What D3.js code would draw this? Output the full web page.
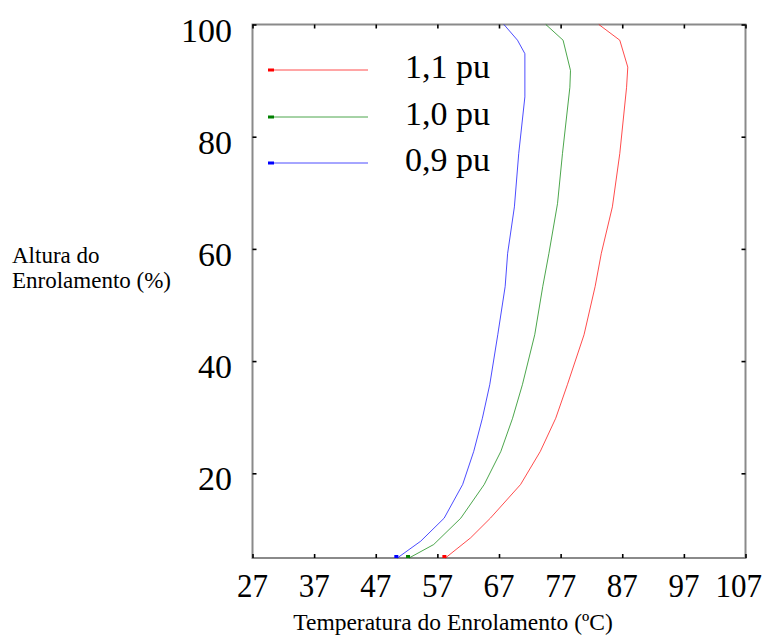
<!DOCTYPE html>
<html><head><meta charset="utf-8">
<script src="https://cdn.jsdelivr.net/npm/d3@7"></script>
<style>
html,body{margin:0;padding:0;background:#fff;}
text{font-family:"Liberation Serif","Times New Roman",serif;fill:#000;}
</style></head>
<body>
<svg id="chart" width="766" height="635"></svg>
<script>
// ---- data ----
const xTicks = [27, 37, 47, 57, 67, 77, 87, 97, 107];
const yTicks = [20, 40, 60, 80, 100];
const seriesNames = ["1,1 pu", "1,0 pu", "0,9 pu"];
const seriesColors = ["#ff0000", "#008000", "#0000ff"];
// winding height (%) and winding temperature (ºC) per series
const heights11 = [4.9, 8.5, 12, 18, 23.9, 29.8, 35.8, 44.7, 53.3, 59.2, 67.5, 77, 88.8, 92.4, 97.2, 100];
const temps11   = [58.3, 62.4, 65.6, 70.5, 73.7, 76.2, 78.1, 80.8, 82.6, 83.6, 85.4, 86.6, 87.7, 87.9, 86.6, 83.2];
const heights10 = [4.9, 7.3, 12, 18, 23.9, 29.8, 35.8, 44.7, 53.3, 59.2, 68.1, 77, 88.8, 91.8, 97.2, 100];
const temps10   = [52.4, 56.4, 60.8, 64.6, 67.3, 69.2, 70.8, 72.8, 74.1, 75.1, 76.5, 77.3, 78.5, 78.6, 77.4, 74.6];
const heights09 = [4.9, 7.9, 12, 18, 23.9, 29.8, 35.8, 44.7, 53.3, 59.2, 67.5, 77, 87.1, 94.8, 97.2, 100];
const temps09   = [50.5, 54.3, 58.1, 61.1, 62.9, 64.3, 65.5, 66.8, 68.0, 68.4, 69.5, 70.2, 71.2, 71.2, 70.0, 67.8];
const xTitle = "Temperatura do Enrolamento (ºC)";
const yTitle = ["Altura do", "Enrolamento (%)"];

const series = [
  {name: seriesNames[0], color: seriesColors[0], h: heights11, t: temps11},
  {name: seriesNames[1], color: seriesColors[1], h: heights10, t: temps10},
  {name: seriesNames[2], color: seriesColors[2], h: heights09, t: temps09}
];

// ---- layout ----
const L = 252.5, R = 745.5, T = 24.5, B = 558;
const x = d3.scaleLinear().domain([27, 107]).range([L, R]);
const y = d3.scaleLinear().domain([4.9, 100]).range([B, T]);

const svg = d3.select("#chart");

// frame
svg.append("rect").attr("x", L).attr("y", T).attr("width", R - L).attr("height", B - T)
  .attr("fill", "none").attr("stroke", "#8a8a8a").attr("stroke-width", 2);

// ticks (inward) on all sides
const tickLen = 4;
const gb = svg.append("g").attr("transform", `translate(0,${B})`)
  .call(d3.axisTop(x).tickValues(xTicks).tickSize(tickLen).tickFormat(""));
const gt = svg.append("g").attr("transform", `translate(0,${T})`)
  .call(d3.axisBottom(x).tickValues(xTicks).tickSize(tickLen).tickFormat(""));
const gl = svg.append("g").attr("transform", `translate(${L},0)`)
  .call(d3.axisRight(y).tickValues(yTicks).tickSize(tickLen).tickFormat(""));
const gr = svg.append("g").attr("transform", `translate(${R},0)`)
  .call(d3.axisLeft(y).tickValues(yTicks).tickSize(tickLen).tickFormat(""));
[gb, gt, gl, gr].forEach(g => {
  g.select(".domain").remove();
  g.selectAll(".tick line").attr("stroke", "#000").attr("stroke-width", 1.6);
});

// tick labels (x labels slightly stretched vertically, as in the reference)
svg.append("g").selectAll("text").data(xTicks).join("text")
  .attr("text-anchor", "middle").attr("font-size", 31)
  .attr("transform", d => `translate(${x(d)},597) scale(1,1.12)`)
  .text(d => d)
  .each(function(d) {
    const w = this.getComputedTextLength();
    const cx = Math.min(x(d), 762 - w / 2);
    d3.select(this).attr("transform", `translate(${cx},597) scale(1,1.12)`);
  });
svg.append("g").selectAll("text").data(yTicks).join("text")
  .attr("x", 232).attr("y", d => y(d) + 17)
  .attr("text-anchor", "end").attr("font-size", 34)
  .text(d => d);

// axis titles
svg.append("text").attr("x", 453).attr("y", 630).attr("text-anchor", "middle")
  .attr("font-size", 23.5).text(xTitle);
svg.append("text").attr("x", 12).attr("y", 263).attr("font-size", 23).text(yTitle[0]);
svg.append("text").attr("x", 12).attr("y", 288).attr("font-size", 23).text(yTitle[1]);

// curves
const line = d3.line().x(d => x(d[0])).y(d => y(d[1]));
series.forEach(s => {
  const pts = s.t.map((t, i) => [t, s.h[i]]);
  svg.append("path").datum(pts).attr("d", line)
    .attr("fill", "none").attr("stroke", s.color).attr("stroke-width", 1).attr("stroke-opacity", 0.7);
  svg.append("rect").attr("x", x(pts[0][0]) - 3).attr("y", y(pts[0][1]) - 3)
    .attr("width", 4).attr("height", 3).attr("fill", s.color);
});

// legend
const legY = [70, 117, 163];
series.forEach((s, i) => {
  svg.append("line").attr("x1", 268).attr("x2", 368).attr("y1", legY[i]).attr("y2", legY[i])
    .attr("stroke", s.color).attr("stroke-width", 1).attr("stroke-opacity", 0.7);
  svg.append("rect").attr("x", 268).attr("y", legY[i] - 1.5).attr("width", 6).attr("height", 3)
    .attr("fill", s.color);
  svg.append("text").attr("x", 490).attr("y", legY[i] + 8).attr("text-anchor", "end")
    .attr("font-size", 34).text(s.name);
});
</script>
</body></html>
